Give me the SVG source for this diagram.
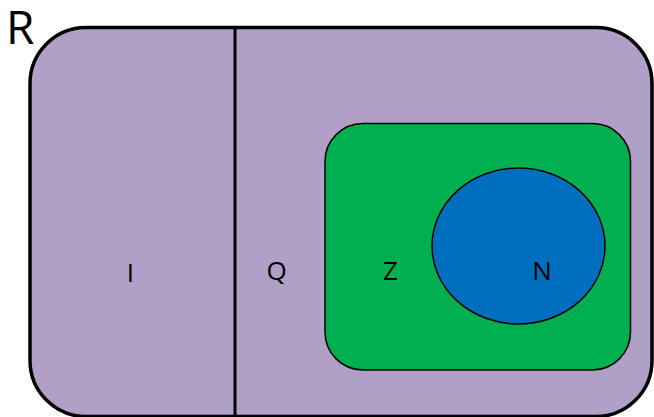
<svg xmlns="http://www.w3.org/2000/svg" width="654" height="417" viewBox="0 0 654 417">
<style>
text{font-family:"Open Sans","Noto Sans","DejaVu Sans",sans-serif;fill:#000}
.lbl{font-size:26px;text-anchor:middle}
</style>
<rect width="654" height="417" fill="#fff"/>
<g id="R">
<rect x="30" y="27.5" width="622" height="389" rx="56" ry="56" fill="#b09fc6" stroke="#000" stroke-width="3.5"/>
<text x="6" y="43.5" style="font-size:46px">R</text>
</g>
<g id="divider">
<line x1="235" y1="27" x2="235" y2="417" stroke="#000" stroke-width="3"/>
</g>
<g id="I"><text class="lbl" x="130.5" y="281.5">I</text></g>
<g id="Q"><text class="lbl" x="276.5" y="280">Q</text></g>
<g id="Z">
<rect x="325" y="123.5" width="305.5" height="246.5" rx="38" ry="38" fill="#00af4f" stroke="#000" stroke-width="1.5"/>
<text class="lbl" x="390.5" y="280">Z</text>
</g>
<g id="N">
<ellipse cx="518.5" cy="246" rx="86.5" ry="78" fill="#006ebf" stroke="#000" stroke-width="1.5"/>
<text class="lbl" x="542" y="280">N</text>
</g>
<g id="connectors"/>
</svg>
